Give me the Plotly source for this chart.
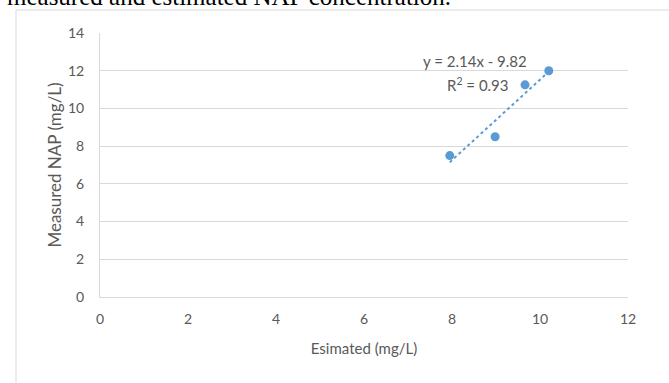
import numpy as np
import plotly.graph_objects as go

# Data
estimated = [7.95, 8.98, 9.66, 10.2]
measured = [7.5, 8.5, 11.25, 12.0]
x_ticks = [0, 2, 4, 6, 8, 10, 12]
y_ticks = [0, 2, 4, 6, 8, 10, 12, 14]
eq_label = "y = 2.14x - 9.82"
r2_label = "R<sup>2</sup> = 0.93"
caption = "measured and estimated NAP concentration."

slope, intercept = np.polyfit(estimated, measured, 1)
x_line = [min(estimated), max(estimated)]
y_line = list(np.polyval([slope, intercept], x_line))

W, H = 669, 383
L, R, T, B = 100, 41, 33, 86
pw, ph = W - L - R, H - T - B

def px(x):
    return (x - L) / pw

def py(y):
    return (H - B - y) / ph

blue = "#5B9BD5"
grey = "#595959"
font = "Lato, Carlito, Calibri, sans-serif"

fig = go.Figure()
fig.add_trace(go.Scatter(x=x_line, y=y_line, mode="lines",
                         line=dict(color=blue, width=2, dash="dot"),
                         hoverinfo="skip", showlegend=False))
fig.add_trace(go.Scatter(x=estimated, y=measured, mode="markers",
                         marker=dict(color=blue, size=9),
                         showlegend=False))

fig.update_xaxes(range=[0, 12], tickvals=x_ticks, showgrid=False,
                 showline=True, linecolor="#D9D9D9", linewidth=1,
                 zeroline=False, ticks="", ticklabelstandoff=9,
                 tickfont=dict(family=font, size=14, color=grey),
                 title=dict(text="Esimated (mg/L)", font=dict(family=font, size=15, color=grey),
                            standoff=17))
fig.update_yaxes(range=[0, 14], tickvals=y_ticks, showgrid=True, gridcolor="#D9D9D9",
                 gridwidth=1, showline=True, linecolor="#D9D9D9", linewidth=1,
                 zeroline=False, ticks="", ticklabelstandoff=12,
                 tickfont=dict(family=font, size=14, color=grey),
                 title=dict(text="Measured NAP (mg/L)", font=dict(family=font, size=17, color=grey),
                            standoff=2))

fig.add_annotation(x=px(475), y=py(61), xref="paper", yref="paper",
                   xanchor="center", yanchor="middle",
                   text=eq_label, showarrow=False,
                   font=dict(family=font, size=15, color=grey))
fig.add_annotation(x=px(478), y=py(84), xref="paper", yref="paper",
                   xanchor="center", yanchor="middle",
                   text=r2_label, showarrow=False,
                   font=dict(family=font, size=15, color=grey))

# cropped caption text from the source document
fig.add_annotation(x=px(5), y=py(12), xref="paper", yref="paper",
                   xanchor="left", yanchor="bottom",
                   text=caption, showarrow=False,
                   font=dict(family="Liberation Serif, Times New Roman, serif", size=25, color="#000000"))

# outer chart frame
fig.add_shape(type="rect", xref="paper", yref="paper",
              x0=px(16), x1=px(700), y0=py(420), y1=py(10),
              line=dict(color="#D9D9D9", width=1), fillcolor="rgba(0,0,0,0)", layer="below")

fig.update_layout(width=W, height=H, margin=dict(l=L, r=R, t=T, b=B),
                  paper_bgcolor="white", plot_bgcolor="white")

fig.write_html("out.html")
